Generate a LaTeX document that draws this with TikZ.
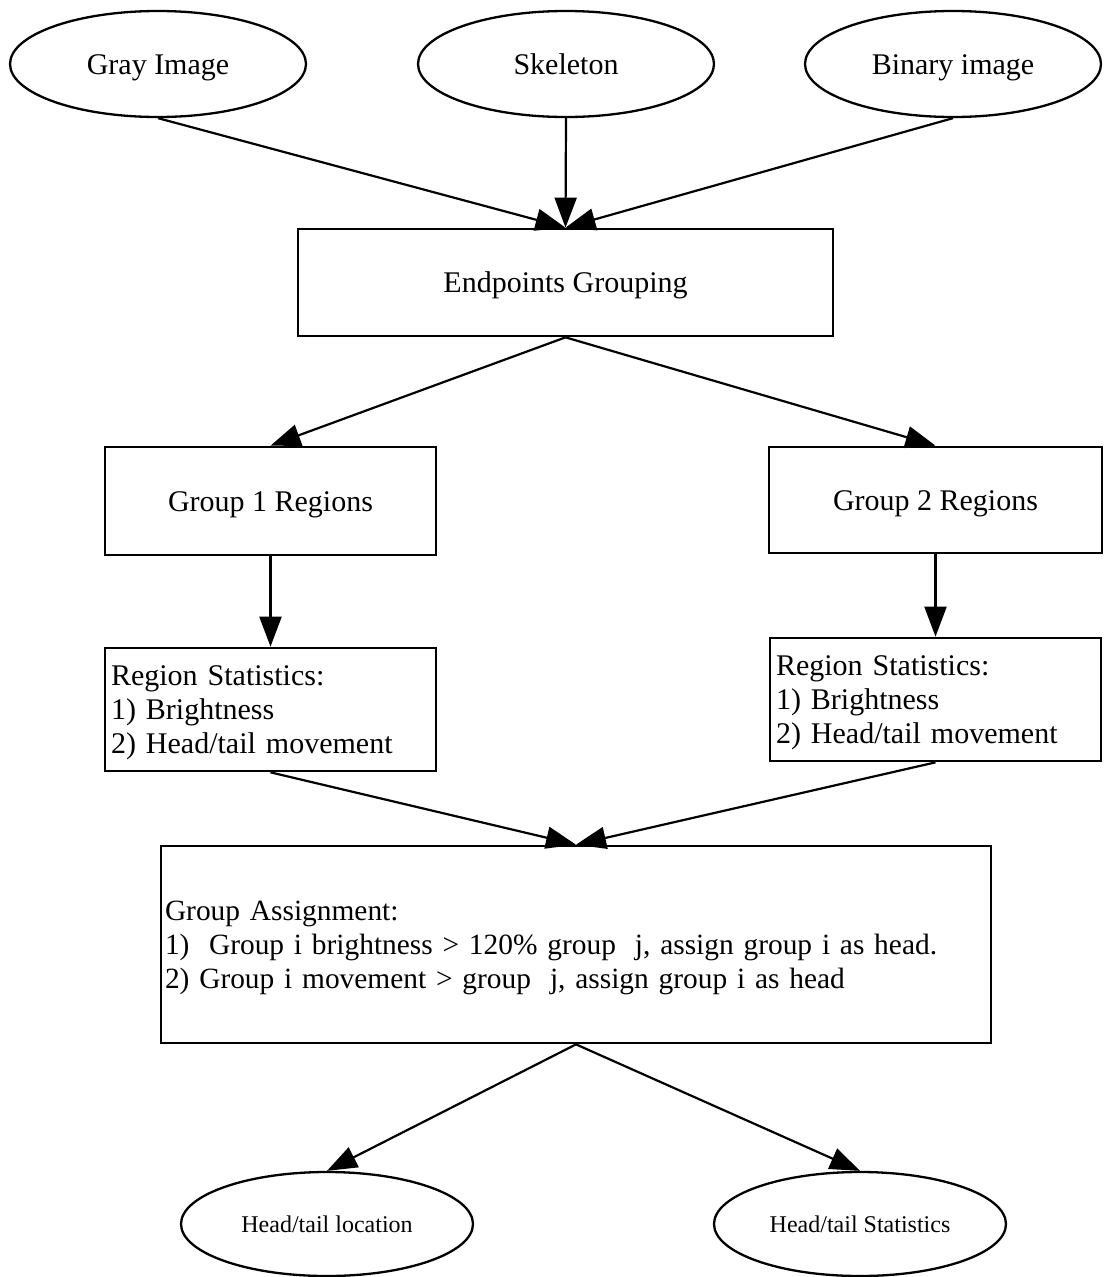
\documentclass[tikz,border=0pt]{standalone}
\usepackage{fontspec}
\setmainfont{Liberation Serif}
\usetikzlibrary{shapes.geometric,arrows.meta}

\begin{document}
\begin{tikzpicture}[x=1pt,y=-1pt,
  every node/.style={font=\fontsize{30}{34}\selectfont},
  srcnode/.style={draw, line width=2.3pt, ellipse, inner sep=0pt,
              minimum width=296pt, minimum height=106pt,
              text height=20pt, text depth=0pt},
  resnode/.style={draw, line width=2.3pt, ellipse, inner sep=0pt,
              minimum width=292pt, minimum height=104pt,
              text height=16pt, text depth=0pt,
              font=\fontsize{24}{28}\selectfont},
  proc/.style={draw, line width=2.7pt, rectangle, inner sep=0pt,
               text height=20pt, text depth=0pt},
  % three-line boxes: depth counts two baseline steps, no descender
  info/.style={draw, line width=2.7pt, rectangle, inner xsep=6pt, inner ysep=0pt,
               align=left, text height=20pt, text depth=68pt},
  arr/.style={line width=2.2pt, -{Triangle[length=30pt,width=22pt]}}
]
\useasboundingbox (0,0) rectangle (1104,1277);

% inputs
\node[srcnode] (gray)   at (158,64)  {Gray Image};
\node[srcnode] (skel)   at (566,64)  {Skeleton};
\node[srcnode] (binary) at (953,64)  {Binary image};

% grouping stage
\node[proc, minimum width=535pt, minimum height=107pt] (eg) at (565.5,282.5) {Endpoints Grouping};
\node[proc, minimum width=331pt, minimum height=108pt] (g1) at (270.5,501) {Group 1 Regions};
\node[proc, minimum width=333pt, minimum height=106pt] (g2) at (935.5,500) {Group 2 Regions};

% per-group statistics
\node[info, text width=319pt, minimum height=123pt] (rs1) at (270.5,709.5)
  {Region Statistics:\\1) Brightness\\2) Head/tail movement};
\node[info, text width=319pt, minimum height=123pt] (rs2) at (935.5,699.5)
  {Region Statistics:\\1) Brightness\\2) Head/tail movement};

% assignment rule
\node[info, inner xsep=4pt, text width=822pt, minimum height=197pt,
      font=\fontsize{29.4}{34}\selectfont] (ga) at (576,944.5)
  {Group Assignment:\\
   1)\ \ Group i brightness > 120\% group\hspace{19pt}j, assign group i as head.\\
   2) Group i movement > group\hspace{19pt}j, assign group i as head};

% outputs
\node[resnode] (loc)  at (327,1224) {Head/tail location};
\node[resnode] (stat) at (860,1224) {Head/tail Statistics};

% connectors
\draw[arr] (gray.south)   -- (eg.north);
\draw[arr] (skel.south)   -- (eg.north);
\draw[arr] (binary.south) -- (eg.north);
\draw[arr] (eg.south) -- (g1.north);
\draw[arr] (eg.south) -- (g2.north);
\draw[arr] (g1.south) -- (rs1.north);
\draw[arr] (g2.south) -- (rs2.north);
\draw[arr] (rs1.south) -- (ga.north);
\draw[arr] (rs2.south) -- (ga.north);
\draw[arr] (ga.south) -- (loc.north);
\draw[arr] (ga.south) -- (stat.north);
\end{tikzpicture}
\end{document}
